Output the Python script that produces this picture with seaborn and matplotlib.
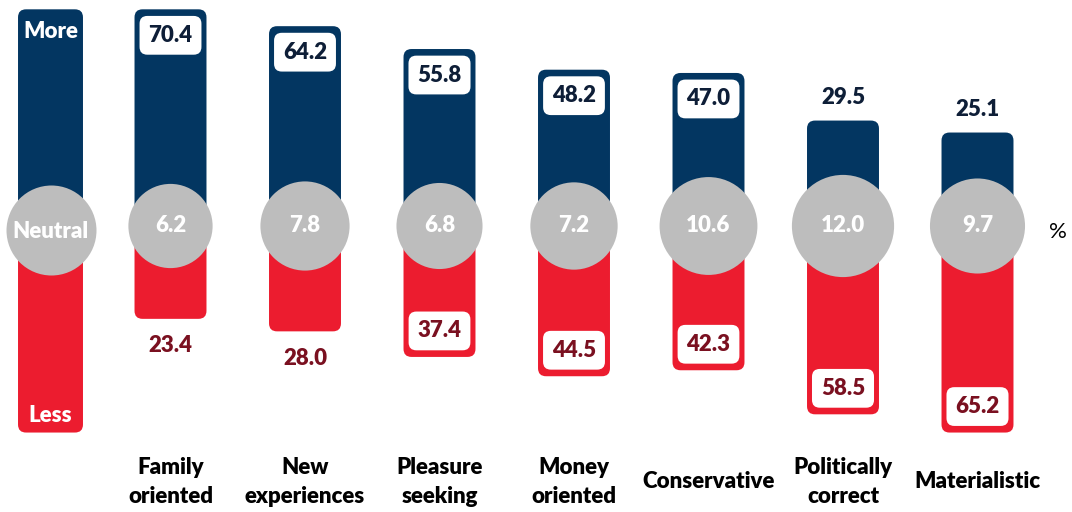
import numpy as np
import pandas as pd
import matplotlib
matplotlib.use("Agg")
import matplotlib.pyplot as plt
import matplotlib.transforms as mtransforms
from matplotlib.patches import FancyBboxPatch
import seaborn as sns

# ---------------- data ----------------
categories = ["Family\noriented", "New\nexperiences", "Pleasure\nseeking",
              "Money\noriented", "Conservative", "Politically\ncorrect",
              "Materialistic"]
more = [70.4, 64.2, 55.8, 48.2, 47.0, 29.5, 25.1]
neutral = [6.2, 7.8, 6.8, 7.2, 10.6, 12.0, 9.7]
less = [23.4, 28.0, 37.4, 44.5, 42.3, 58.5, 65.2]
legend_labels = ["More", "Neutral", "Less"]
unit_label = "%"

# ---------------- style ----------------
NAVY = "#033661"
RED = "#EC1C2F"
GREY = "#BDBDBD"
NAVY_TXT = "#0E1E37"
RED_TXT = "#7A1020"

sns.set_theme(style="white")
plt.rcParams["font.family"] = ["Lato", "DejaVu Sans"]

W, H = 1072, 512
PX_X = 134.5      # pixels per category step
PX_Y = 2.72       # pixels per percentage point
X0 = 170.5        # pixel x of first category
Y0 = 228          # pixel y (from top) of centre line
OFFSET = 10       # hidden base under the neutral circles (in % units)
BAR_W = 0.535
LEG_X = (50.5 - X0) / PX_X
LEG_W = 0.483
FS = 16
WT = "heavy"
PT = 0.72         # points per pixel at 100 dpi

fig = plt.figure(figsize=(W / 100, H / 100), dpi=100)
ax = fig.add_axes([0, 0, 1, 1])

df = pd.DataFrame({
    "category": categories * 2,
    "direction": ["More"] * len(categories) + ["Less"] * len(categories),
    "extent": [v + OFFSET for v in more] + [-(v + OFFSET) for v in less],
})
sns.barplot(data=df, x="category", y="extent", hue="direction",
            order=categories, hue_order=["More", "Less"],
            palette={"More": NAVY, "Less": RED}, dodge=False, saturation=1,
            width=BAR_W, errorbar=None, legend=False, ax=ax, zorder=2)

# legend column bars (full range)
ax.bar([LEG_X], [max(more) + OFFSET], width=LEG_W, color=NAVY, zorder=2)
ax.bar([LEG_X], [-(max(less) + OFFSET)], width=LEG_W, color=RED, zorder=2)

# replace rectangles with rounded ones
aspect = PX_X / PX_Y
r = 8 / PX_X
for p in list(ax.patches):
    x, y = p.get_x(), p.get_y()
    w, h = p.get_width(), p.get_height()
    if h == 0:
        p.remove()
        continue
    y0 = min(y, y + h)
    fb = FancyBboxPatch((x, y0), w, abs(h),
                        boxstyle=f"round,pad=0,rounding_size={r}",
                        mutation_aspect=aspect,
                        fc=p.get_facecolor(), ec="none", zorder=2)
    p.remove()
    ax.add_patch(fb)

# neutral circles
pos = np.arange(len(categories))
sizes = {v: ((65 + 3.1 * v) * PT) ** 2 for v in neutral}
sns.scatterplot(x=pos, y=np.full(len(pos), 2 / PX_Y), size=neutral,
                sizes=sizes, color=GREY, linewidth=0, legend=False, ax=ax,
                zorder=3)
ax.scatter([LEG_X], [-2 / PX_Y], s=(90 * PT) ** 2, color=GREY, linewidth=0,
           zorder=3)

# circle values
for i, v in enumerate(neutral):
    ax.text(i, 2 / PX_Y, f"{v:.1f}", ha="center", va="center", color="white",
            fontsize=FS, fontweight=WT, zorder=5)

box = dict(boxstyle="round,pad=0.4,rounding_size=0.35", fc="white",
           ec="none")
for i, v in enumerate(more):
    top = v + OFFSET
    if v >= 35:
        ax.annotate(f"{v:.1f}", xy=(i, top), xytext=(0, -26 * PT),
                    textcoords="offset points", ha="center", va="center",
                    color=NAVY_TXT, fontsize=FS, fontweight=WT,
                    bbox=box, zorder=5)
    else:
        ax.annotate(f"{v:.1f}", xy=(i, top), xytext=(0, 23 * PT),
                    textcoords="offset points", ha="center", va="center",
                    color=NAVY_TXT, fontsize=FS, fontweight=WT, zorder=5)

for i, v in enumerate(less):
    bot = -(v + OFFSET)
    if v >= 35:
        ax.annotate(f"{v:.1f}", xy=(i, bot), xytext=(0, 26 * PT),
                    textcoords="offset points", ha="center", va="center",
                    color=RED_TXT, fontsize=FS, fontweight=WT,
                    bbox=box, zorder=5)
    else:
        ax.annotate(f"{v:.1f}", xy=(i, bot), xytext=(0, -27 * PT),
                    textcoords="offset points", ha="center", va="center",
                    color=RED_TXT, fontsize=FS, fontweight=WT, zorder=5)

# legend texts
ax.annotate(legend_labels[0], xy=(LEG_X, max(more) + OFFSET),
            xytext=(0, -22 * PT), textcoords="offset points", ha="center",
            va="center", color="white", fontsize=FS, fontweight=WT,
            zorder=5)
ax.annotate(legend_labels[1], xy=(LEG_X, 0), xytext=(0, -3 * PT),
            textcoords="offset points", ha="center", va="center",
            color="white", fontsize=FS, fontweight=WT, zorder=5)
ax.annotate(legend_labels[2], xy=(LEG_X, -(max(less) + OFFSET)),
            xytext=(0, 17 * PT), textcoords="offset points", ha="center",
            va="center", color="white", fontsize=FS, fontweight=WT,
            zorder=5)

# category labels
trans = mtransforms.blended_transform_factory(ax.transData, ax.transAxes)
for i, c in enumerate(categories):
    ax.text(i, (H - 482) / H, c, transform=trans, ha="center", va="center",
            fontsize=16, fontweight=WT, color="black", linespacing=1.5)

ax.text(1058 / W, (H - 232) / H, unit_label, transform=ax.transAxes,
        ha="center", va="center", fontsize=FS, color="black")

ax.set_xlim(-X0 / PX_X, (W - X0) / PX_X)
ax.set_ylim(-(H - Y0) / PX_Y, Y0 / PX_Y)
ax.axis("off")

fig.savefig("out.png", dpi=100)
